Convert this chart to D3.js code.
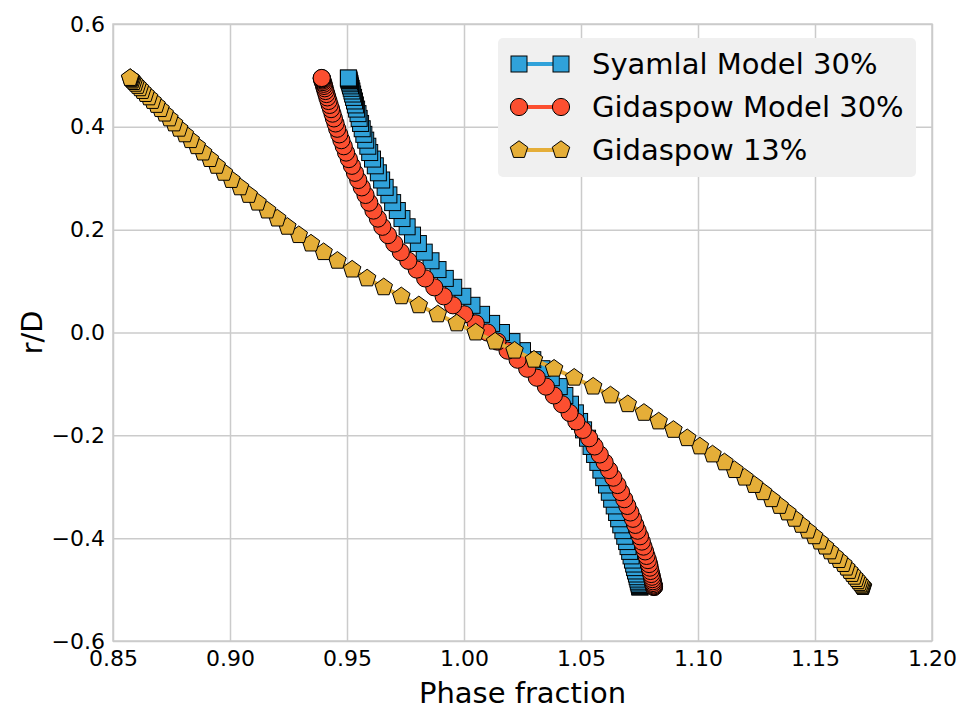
<!DOCTYPE html>
<html><head><meta charset="utf-8">
<script src="https://cdn.jsdelivr.net/npm/d3@7/dist/d3.min.js"></script>
<style>body{margin:0;background:#fff}svg{display:block}</style>
</head><body><svg id="c" width="965" height="713"></svg>
<script>
// r/D positions (shared grid), ascending
const rD = [
-0.4950,-0.4947,-0.4937,-0.4922,-0.4900,-0.4871,-0.4837,-0.4796,-0.4750,-0.4697,
-0.4638,-0.4573,-0.4503,-0.4426,-0.4345,-0.4257,-0.4164,-0.4066,-0.3963,-0.3854,
-0.3741,-0.3623,-0.3500,-0.3373,-0.3242,-0.3106,-0.2966,-0.2823,-0.2676,-0.2526,
-0.2372,-0.2216,-0.2056,-0.1894,-0.1730,-0.1563,-0.1395,-0.1224,-0.1052,-0.0879,
-0.0704,-0.0529,-0.0353,-0.0177,0.0000,
0.0177,0.0353,0.0529,0.0704,0.0879,0.1052,0.1224,0.1395,0.1563,0.1730,
0.1894,0.2056,0.2216,0.2372,0.2526,0.2676,0.2823,0.2966,0.3106,0.3242,
0.3373,0.3500,0.3623,0.3741,0.3854,0.3963,0.4066,0.4164,0.4257,0.4345,
0.4426,0.4503,0.4573,0.4638,0.4697,0.4750,0.4796,0.4837,0.4871,0.4900,
0.4922,0.4937,0.4947,0.4950];

const syamlal30 = [
1.0752,1.0752,1.0751,1.0750,1.0749,1.0747,1.0745,1.0743,1.0740,1.0737,
1.0733,1.0729,1.0725,1.0720,1.0714,1.0708,1.0701,1.0695,1.0687,1.0679,
1.0670,1.0661,1.0652,1.0642,1.0631,1.0621,1.0609,1.0597,1.0585,1.0572,
1.0558,1.0543,1.0528,1.0511,1.0494,1.0476,1.0455,1.0431,1.0407,1.0373,
1.0333,1.0294,1.0250,1.0205,1.0160,
1.0118,1.0075,1.0034,0.9995,0.9956,0.9920,0.9889,0.9859,0.9830,0.9805,
0.9780,0.9757,0.9735,0.9715,0.9695,0.9679,0.9663,0.9648,0.9634,0.9621,
0.9609,0.9597,0.9589,0.9580,0.9572,0.9565,0.9558,0.9552,0.9547,0.9541,
0.9536,0.9532,0.9528,0.9524,0.9521,0.9518,0.9515,0.9513,0.9511,0.9509,
0.9508,0.9507,0.9506,0.9506];

const gidaspow30 = [
1.0812,1.0812,1.0811,1.0811,1.0810,1.0808,1.0807,1.0805,1.0803,1.0800,
1.0797,1.0794,1.0791,1.0786,1.0780,1.0774,1.0767,1.0760,1.0752,1.0742,
1.0732,1.0722,1.0711,1.0698,1.0685,1.0671,1.0656,1.0638,1.0620,1.0601,
1.0580,1.0558,1.0535,1.0508,1.0480,1.0451,1.0419,1.0384,1.0350,1.0311,
1.0270,1.0229,1.0186,1.0143,1.0100,
1.0050,1.0001,0.9953,0.9913,0.9873,0.9834,0.9798,0.9762,0.9730,0.9702,
0.9675,0.9651,0.9632,0.9613,0.9595,0.9579,0.9563,0.9548,0.9534,0.9521,
0.9508,0.9496,0.9486,0.9476,0.9467,0.9458,0.9451,0.9444,0.9438,0.9432,
0.9426,0.9421,0.9416,0.9412,0.9408,0.9405,0.9402,0.9400,0.9397,0.9395,
0.9394,0.9393,0.9392,0.9392];

const gidaspow13 = [
1.1705,1.1704,1.1703,1.1700,1.1696,1.1691,1.1684,1.1677,1.1668,1.1658,
1.1647,1.1634,1.1621,1.1603,1.1584,1.1564,1.1543,1.1520,1.1496,1.1469,
1.1441,1.1412,1.1382,1.1349,1.1314,1.1278,1.1240,1.1199,1.1156,1.1113,
1.1062,1.1008,1.0954,1.0895,1.0832,1.0769,1.0700,1.0626,1.0552,1.0471,
1.0385,1.0299,1.0216,1.0133,1.0050,
0.9969,0.9888,0.9807,0.9732,0.9657,0.9586,0.9522,0.9459,0.9400,0.9346,
0.9294,0.9245,0.9202,0.9159,0.9118,0.9080,0.9043,0.9006,0.8974,0.8943,
0.8914,0.8885,0.8858,0.8832,0.8807,0.8783,0.8761,0.8741,0.8721,0.8703,
0.8686,0.8669,0.8654,0.8639,0.8626,0.8615,0.8605,0.8596,0.8589,0.8583,
0.8579,0.8576,0.8574,0.8573];

const xTicks = [0.85,0.90,0.95,1.00,1.05,1.10,1.15,1.20];
const yTicks = [-0.6,-0.4,-0.2,0.0,0.2,0.4,0.6];
const seriesNames = ["Syamlal Model 30%","Gidaspow Model 30%","Gidaspow 13%"];
const seriesColors = ["#30a2da","#fc4f30","#e5ae38"];
const seriesShapes = ["square","circle","pentagon"];
const xLabel = "Phase fraction", yLabel = "r/D";

const FONT = "'DejaVu Sans', sans-serif";
const L=113, R=932, T=24, B=641;
const svg = d3.select("#c");
const x = d3.scaleLinear().domain([0.85,1.20]).range([L,R]);
const y = d3.scaleLinear().domain([-0.6,0.6]).range([B,T]);

// grid
const gx = svg.append("g").attr("transform",`translate(0,${B})`)
  .call(d3.axisBottom(x).tickValues(xTicks).tickSize(-(B-T)).tickFormat(d3.format(".2f")).tickPadding(9));
const gy = svg.append("g").attr("transform",`translate(${L},0)`)
  .call(d3.axisLeft(y).tickValues(yTicks).tickSize(-(R-L)).tickFormat(d3.format(".1f")).tickPadding(8));
[gx,gy].forEach(g=>{
  g.select(".domain").remove();
  g.selectAll(".tick line").attr("stroke","#cbcbcb").attr("stroke-width",1.5);
  g.selectAll(".tick text").attr("fill","#000").style("font-family",FONT).style("font-size","22px");
});
svg.append("rect").attr("x",L).attr("y",T).attr("width",R-L).attr("height",B-T)
  .attr("fill","none").attr("stroke","#cbcbcb").attr("stroke-width",1.5);

function pentagonPath(R){
  const pts=[];
  for(let i=0;i<5;i++){const a=-Math.PI/2+i*2*Math.PI/5;pts.push([R*Math.cos(a),R*Math.sin(a)]);}
  return "M"+pts.map(p=>p.join(",")).join("L")+"Z";
}
function drawMarker(g, shape, color){
  if(shape==="square") g.append("rect").attr("x",-8).attr("y",-8).attr("width",16).attr("height",16);
  else if(shape==="circle") g.append("circle").attr("r",8.6);
  else g.append("path").attr("d",pentagonPath(9.2));
  g.selectAll("*").attr("fill",color).attr("stroke","#000").attr("stroke-width",1);
}

const allSeries = [syamlal30, gidaspow30, gidaspow13];
const line = d3.line().x(d=>x(d[0])).y(d=>y(d[1]));
allSeries.forEach((vals,si)=>{
  const pts = vals.map((v,i)=>[v,rD[i]]);
  const g = svg.append("g");
  g.append("path").attr("d",line(pts)).attr("fill","none")
    .attr("stroke",seriesColors[si]).attr("stroke-width",4).attr("stroke-linejoin","round");
  pts.forEach(p=>{
    const mg = g.append("g").attr("transform",`translate(${x(p[0])},${y(p[1])})`);
    drawMarker(mg, seriesShapes[si], seriesColors[si]);
  });
});

// legend
const lg = svg.append("g");
lg.append("rect").attr("x",498).attr("y",38).attr("width",418).attr("height",139).attr("rx",5)
  .attr("fill","#f0f0f0");
seriesNames.forEach((name,i)=>{
  const cy = 64 + i*43;
  lg.append("line").attr("x1",519).attr("x2",561).attr("y1",cy).attr("y2",cy)
    .attr("stroke",seriesColors[i]).attr("stroke-width",4);
  [519,561].forEach(cx=>{
    const mg = lg.append("g").attr("transform",`translate(${cx},${cy})`);
    drawMarker(mg, seriesShapes[i], seriesColors[i]);
  });
  lg.append("text").attr("x",592).attr("y",cy).attr("dy","0.36em").text(name)
    .style("font-family",FONT).style("font-size","29px").attr("fill","#000");
});

// axis labels
svg.append("text").attr("x",(L+R)/2).attr("y",703).attr("text-anchor","middle").text(xLabel)
  .style("font-family",FONT).style("font-size","29px");
svg.append("text").attr("transform",`translate(42,${(T+B)/2}) rotate(-90)`).attr("text-anchor","middle").text(yLabel)
  .style("font-family",FONT).style("font-size","29px");
</script></body></html>
